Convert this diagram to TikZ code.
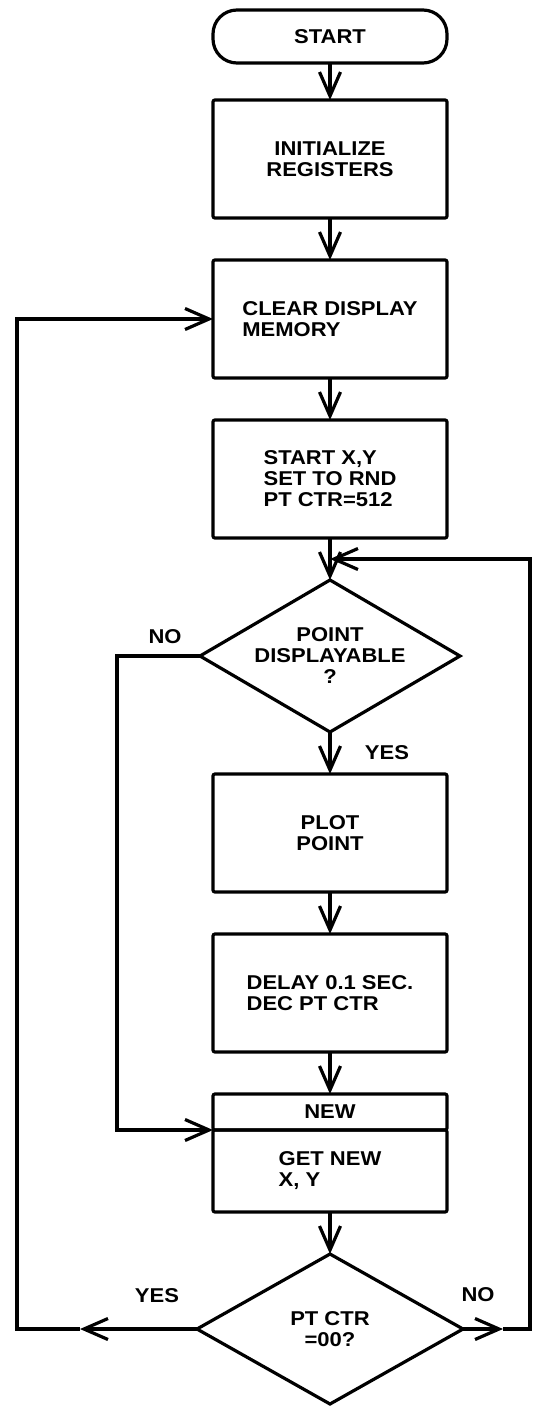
\documentclass[tikz,border=0pt]{standalone}
\usepackage{fontspec}
\setmainfont{Liberation Sans}[FakeStretch=1.1]
\usetikzlibrary{arrows.meta,positioning,calc,shapes.geometric}
\newcommand{\chartfont}{\fontsize{10}{10.5}\selectfont\bfseries}
\tikzset{
  terminal/.style={draw,rounded corners=12pt,align=center,outer sep=0pt,
    minimum width=117pt,minimum height=26.5pt,font=\chartfont},
  process/.style={draw,rounded corners=1pt,align=center,outer sep=0pt,
    minimum width=117pt,minimum height=59pt,font=\chartfont},
  decision/.style={draw,diamond,aspect=1.7,inner sep=0pt,outer sep=0pt,
    align=center,font=\chartfont},
  arrow/.style={-{Straight Barb[length=12pt,width=10.5pt]},line width=1.6pt},
  labelstyle/.style={font=\chartfont,inner sep=1pt}
}

\begin{document}
\begin{tikzpicture}[x=0.5pt,y=-0.5pt,line width=1.6pt,node distance=21pt]
  \useasboundingbox (0,0) rectangle (532,1407);
  % main column
  \node[terminal] (start) at (330,36.5) {START};
  \node[process,below=18.5pt of start] (init) {INITIALIZE\\REGISTERS};
  \node[process,below=of init,align=left] (clear) {CLEAR DISPLAY\\MEMORY};
  \node[process,below=of clear,align=left] (setxy) {START X,Y\\SET TO RND\\PT CTR=512};
  \node[decision,below=of setxy,minimum width=130pt,minimum height=76pt] (disp) {POINT\\DISPLAYABLE\\?};
  \node[process,below=of disp] (plot) {PLOT\\POINT};
  \node[process,below=of plot,align=left] (delay) {DELAY 0.1 SEC.\\DEC PT CTR};
  \node[process,below=of delay,minimum height=18pt] (newhead) {NEW};
  \node[process,below=0pt of newhead,minimum height=41pt,align=left] (getnew) {GET NEW\\X, Y};
  \node[decision,below=of getnew,minimum width=133pt,minimum height=75pt] (zero) {PT CTR\\=00?};

  \draw[arrow] (start) -- (init);
  \draw[arrow] (init) -- (clear);
  \draw[arrow] (clear) -- (setxy);
  \draw[arrow] (setxy) -- (disp);
  \draw[arrow] (disp) -- (plot);
  \draw[arrow] (plot) -- (delay);
  \draw[arrow] (delay) -- (newhead);
  \draw[arrow] (getnew) -- (zero);

  % loops
  \coordinate (merge) at ($(setxy.south)!0.5!(disp.north)$);
  \coordinate (leftrail) at (17,0);
  \coordinate (rightrail) at (530,0);
  \coordinate (norail) at (117,0);
  \coordinate (yestip) at ($(zero.west)+(-117,0)$);
  \coordinate (notip) at ($(zero.east)+(40,0)$);
  \draw[arrow] (disp.west) -- (disp.west -| norail) |- (getnew.north west);
  \draw[arrow] (zero.west) -- (yestip);
  \draw[arrow] (yestip) -- (yestip -| leftrail) |- (clear.west);
  \draw[arrow] (zero.east) -- (notip);
  \draw[arrow] (notip) -- (notip -| rightrail) |- (merge);

  \node[labelstyle] (nodisp) at ($(disp.west)+(-35,-19)$) {NO};
  \node[labelstyle] (yesdisp) at ($(disp.south)+(57,21)$) {YES};
  \node[labelstyle] (yeszero) at ($(zero.west)+(-40,-33)$) {YES};
  \node[labelstyle] (nozero) at ($(zero.east)+(15,-34)$) {NO};
\end{tikzpicture}
\end{document}
